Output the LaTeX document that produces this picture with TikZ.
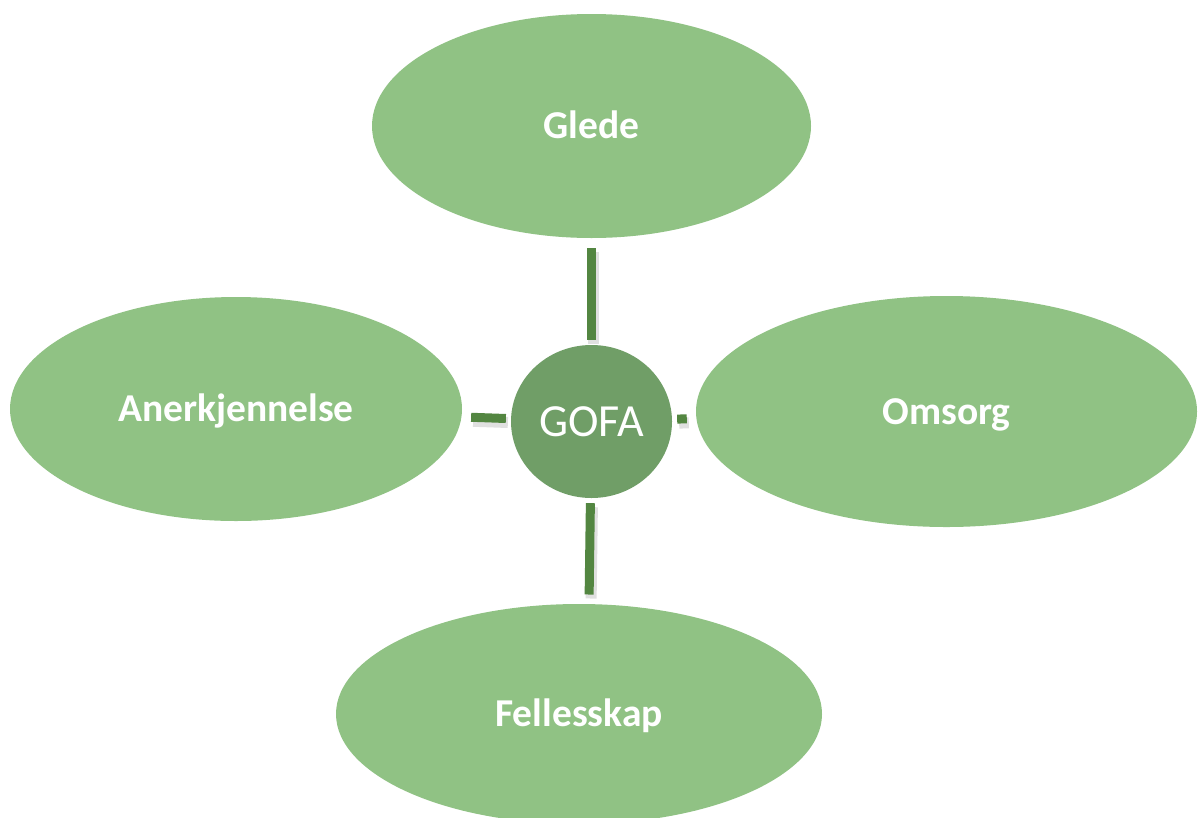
\documentclass[tikz,border=0pt]{standalone}
\usepackage{fontspec}
\setmainfont{Carlito}
\usetikzlibrary{shapes.geometric}
\definecolor{leaf}{HTML}{90C284}
\definecolor{hub}{HTML}{709E67}
\definecolor{stem}{HTML}{538641}
\tikzset{
	% outer ellipses
	petal/.style={ellipse, fill=leaf, text=white, inner sep=0pt,
		text height=25pt, text depth=0pt,
		font=\fontsize{39.5}{44}\selectfont\bfseries},
	% centre circle
	hub/.style={ellipse, fill=hub, text=white, inner sep=0pt,
		minimum width=161pt, minimum height=153pt,
		text height=29pt, text depth=0pt,
		font=\fontsize{46}{50}\selectfont},
	% thick connector with a soft shadow
	stemline/.style={draw=stem, line width=9pt, shorten <=5pt, shorten >=9.5pt,
		preaction={draw=black, opacity=0.12, line width=11pt,
			transform canvas={shift={(2pt,-4pt)}}}}
}

\begin{document}
\begin{tikzpicture}[x=1pt, y=-1pt]
	\useasboundingbox[fill=white] (0,0) rectangle (1198,817);
	% nodes
	\node[hub] (gofa) at (591.5,421.5) {GOFA};
	\node[petal, minimum width=439pt, minimum height=224pt] (glede) at (591.5,126) {Glede};
	\node[petal, minimum width=452pt, minimum height=224pt] (anerk) at (236,409) {Anerkjennelse};
	\node[petal, minimum width=501pt, minimum height=231pt] (omsorg) at (946.5,411.5) {Omsorg};
	\node[petal, minimum width=486pt, minimum height=220pt] (felles) at (579,714) {Fellesskap};
	% bottom stem meets Fellesskap right of its centre
	\coordinate (fellestop) at (589,604);
	% connectors
	\draw[stemline] (gofa) -- (glede);
	\draw[stemline] (gofa) -- (anerk);
	\draw[stemline] (gofa) -- (omsorg);
	\draw[stemline] (gofa) -- (fellestop);
\end{tikzpicture}
\end{document}
